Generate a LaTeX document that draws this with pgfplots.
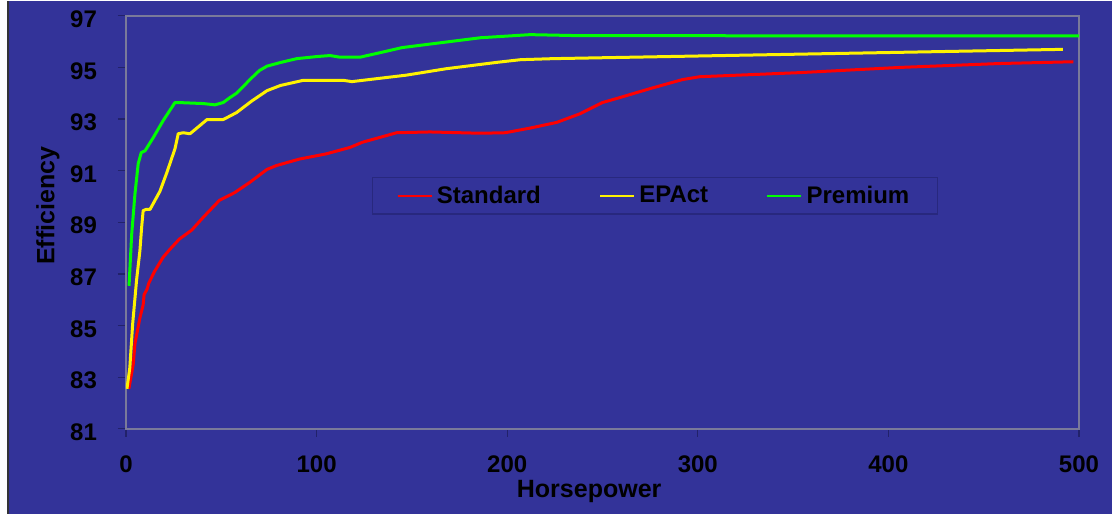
\documentclass[border=0pt]{standalone}
\usepackage{fontspec}
\setmainfont{Liberation Sans}
\usepackage{pgfplots}
\pgfplotsset{compat=1.18}
\definecolor{bgblue}{HTML}{333399}
\definecolor{tickdark}{HTML}{22226A}
\definecolor{legborder}{HTML}{28287E}
\definecolor{frame}{HTML}{7A7A9A}
\begin{document}
\begin{tikzpicture}
\fill[bgblue] (-63pt,-42.5pt) rectangle (493pt,214pt);
\fill[white] (-63pt,-42.5pt) rectangle (-59.5pt,214pt);
\draw[color=black!75!cyan!40!black, line width=0.8pt] (-59.1pt,-42.5pt) -- (-59.1pt,214pt);
\begin{axis}[
  scale only axis,
  width=476.5pt, height=206.5pt,
  xmin=0, xmax=500, ymin=81, ymax=97,
  xtick={0,100,...,500},
  ytick={81,83,...,97},
  xtick pos=bottom, ytick pos=left,
  tick align=outside,
  major tick length=4pt,
  tick style={color=tickdark, line width=0.6pt},
  axis line style={color=frame, line width=0.8pt},
  /pgf/number format/assume math mode=true,
  ticklabel style={font=\fontsize{12}{14}\selectfont\bfseries, text=black},
  xticklabel style={yshift=-6pt},
  yticklabel style={xshift=-7pt, yshift=-1.7pt},
  xlabel={Horsepower},
  ylabel={Efficiency},
  label style={font=\fontsize{12.5}{15}\selectfont\bfseries, text=black},
  xlabel style={at={(axis description cs:0.486,-0.153)}, anchor=center},
  ylabel style={at={(axis description cs:-0.082,0.54)}, anchor=center, rotate=0},
  legend columns=3,
  legend style={at={(axis description cs:0.555,0.564)}, anchor=center,
    draw=legborder, fill=none, line width=0.6pt,
    font=\fontsize{12}{14.5}\selectfont\bfseries, text=black,
    inner xsep=12pt, inner ysep=2pt,
    /tikz/every even column/.append style={column sep=27pt}},
  legend image code/.code={\draw[#1, line width=1.2pt] (0pt,0pt) -- (17pt,0pt);},
  every axis plot/.append style={line width=1.5pt, line join=round},
]
\addplot[color=red] coordinates {
(1.5,82.55) (3.8,83.5) (4.7,84.3) (7.3,85.3) (9,85.8) (9.5,86.2) (11,86.4) (12,86.65)
(15,87.1) (19.5,87.65) (23,87.95) (28,88.35) (34.5,88.7) (40.6,89.2) (49,89.85) (57,90.15)
(65,90.55) (74,91.05) (79,91.2) (91,91.45) (105,91.65) (117.5,91.9) (124,92.1) (142,92.47)
(159.5,92.5) (186,92.45) (199,92.47) (212,92.65) (226,92.87) (238,93.2) (250,93.64)
(259,93.83) (275,94.18) (292,94.53) (301,94.64) (354,94.8) (406,95.0) (458,95.15) (497,95.22)
};
\addlegendentry{Standard}
\addplot[color=yellow] coordinates {
(0.5,82.55) (2,83.36) (3.5,85.07) (5.6,86.8) (7.3,87.9) (8.2,88.8) (9,89.45) (10.5,89.5)
(12.6,89.5) (17.8,90.2) (21.3,90.9) (25.7,91.85) (27.4,92.43) (30,92.47) (33.6,92.43)
(42.5,92.98) (51,92.98) (58,93.25) (66,93.7) (74,94.1) (81,94.3) (93,94.5) (114,94.5)
(118.5,94.45) (147,94.7) (168,94.95) (195,95.2) (207,95.3) (224,95.34) (491.5,95.7)
};
\addlegendentry{EPAct}
\addplot[color=green] coordinates {
(1.6,86.54) (3,88.55) (4.7,90.1) (6.4,91.27) (8,91.7) (10,91.77) (14.3,92.28) (19.5,92.94)
(25.7,93.64) (27.4,93.64) (40.6,93.6) (46.7,93.55) (51,93.64) (54.5,93.83) (58,94.0)
(62,94.3) (66,94.6) (70,94.88) (74,95.05) (81,95.19) (89.6,95.34) (100,95.42) (107,95.46) (112,95.4)
(123,95.4) (135,95.6) (145,95.77) (186,96.15) (212,96.27) (238,96.23) (500,96.22)
};
\addlegendentry{Premium}
\end{axis}
\end{tikzpicture}
\end{document}
